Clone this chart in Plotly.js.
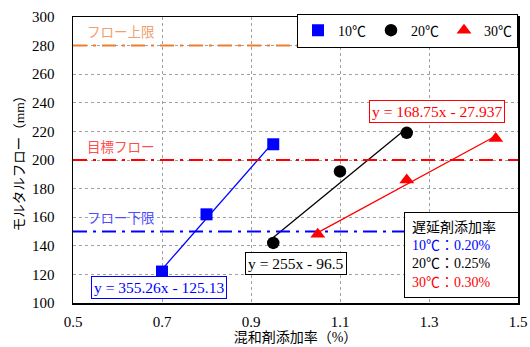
<!DOCTYPE html>
<html><head><meta charset="utf-8">
<script src="https://cdn.plot.ly/plotly-3.0.1.min.js"></script>
<style>html,body{margin:0;padding:0;background:#fff}#c{width:530px;height:347px}</style>
</head><body><div id="c"></div>
<script>
// Data
const seriesNames = ['10℃', '20℃', '30℃'];
const x10 = [0.70, 0.80, 0.95];
const y10 = [122, 162, 211];
const x20 = [0.95, 1.10, 1.25];
const y20 = [142, 192, 219];
const x30 = [1.05, 1.25, 1.45];
const y30 = [148, 186, 215];
const slopes = [355.26, 255, 168.75];
const intercepts = [-125.13, -96.5, -27.937];
const eqLabels = ['y = 355.26x - 125.13', 'y = 255x - 96.5', 'y = 168.75x - 27.937'];
const limitValues = [280, 200, 150];
const limitLabels = ['フロー上限', '目標フロー', 'フロー下限'];
const dosageLabels = ['10℃：0.20%', '20℃：0.25%', '30℃：0.30%'];
const legendTitle = '遅延剤添加率';
const xTicks = [0.5, 0.7, 0.9, 1.1, 1.3, 1.5];
const yTicks = [100, 120, 140, 160, 180, 200, 220, 240, 260, 280, 300];

const colors = ['#0000FF', '#000000', '#FF0000'];
const limitColors = ['#ED7D31', '#FF0000', '#0000FF'];
const limitTextColors = ['#F0A070', '#FF4D4D', '#4D4DFF'];
const symbols = ['square', 'circle', 'triangle-up'];
const FONT = '"Liberation Serif", "Noto Sans CJK JP", serif';

const xs = [x10, x20, x30], ys = [y10, y20, y30];
const traces = [];
// trendlines
for (let i = 0; i < 3; i++) {
  const x0 = Math.min(...xs[i]), x1 = Math.max(...xs[i]);
  traces.push({x: [x0, x1], y: [slopes[i]*x0 + intercepts[i], slopes[i]*x1 + intercepts[i]],
    mode: 'lines', line: {color: colors[i], width: 1.3}, showlegend: false, hoverinfo: 'skip'});
}
// limit lines
for (let i = 0; i < 3; i++) {
  traces.push({x: [0.5, 1.5], y: [limitValues[i], limitValues[i]], mode: 'lines',
    line: {color: limitColors[i], width: 2, dash: '14px,6px,3px,6px'}, showlegend: false, hoverinfo: 'skip'});
}
// markers
const msizes = [12, 12.5, 13];
for (let i = 0; i < 3; i++) {
  traces.push({x: xs[i], y: ys[i], mode: 'markers', name: seriesNames[i],
    marker: {color: colors[i], symbol: symbols[i], size: msizes[i]}});
}

const annotations = [];
const limitTextPos = [[0.608, 290], [0.608, 210], [0.608, 160]];
for (let i = 0; i < 3; i++) {
  annotations.push({x: limitTextPos[i][0], y: limitTextPos[i][1], text: limitLabels[i], showarrow: false,
    font: {family: '"Noto Sans CJK JP", sans-serif', size: 13.5, color: limitTextColors[i]}});
}
const eqPos = [[0.693, 110.6], [1.002, 127.4], [1.317, 234]];
for (let i = 0; i < 3; i++) {
  annotations.push({x: eqPos[i][0], y: eqPos[i][1], text: eqLabels[i], showarrow: false,
    font: {family: FONT, size: 15.5, color: colors[i]}, bgcolor: '#fff',
    bordercolor: colors[i], borderwidth: 1, borderpad: 2});
}
let boxText = legendTitle;
for (let i = 0; i < 3; i++) boxText += '<br><span style="color:' + colors[i] + '">' + dosageLabels[i] + '</span>';
annotations.push({xref: 'paper', x: (404-73)/445, xanchor: 'left', y: 163.4, yanchor: 'top', text: boxText,
  showarrow: false, align: 'left', width: 99, borderpad: 7, font: {family: FONT, size: 14, color: '#000'},
  bgcolor: '#fff', bordercolor: '#000', borderwidth: 1});

const layout = {
  width: 530, height: 347,
  margin: {l: 73, r: 12, t: 17, b: 44},
  paper_bgcolor: '#fff', plot_bgcolor: '#fff',
  font: {family: FONT, size: 15, color: '#000'},
  xaxis: {range: [0.5, 1.5], tickvals: xTicks, ticktext: xTicks.map(v => v.toFixed(1)),
    showgrid: true, gridcolor: '#A0A0A0', griddash: 'dot', gridwidth: 1,
    showline: true, mirror: true, linecolor: '#000', linewidth: 1.5, zeroline: false,
    ticks: '', ticklabelstandoff: 4,
    title: {text: '混和剤添加率（%）', font: {family: FONT, size: 14}, standoff: 3}},
  yaxis: {range: [100, 300], tickvals: yTicks,
    showgrid: true, gridcolor: '#A0A0A0', griddash: 'dot', gridwidth: 1,
    showline: true, mirror: true, linecolor: '#000', linewidth: 1.5, zeroline: false,
    ticks: '', ticklabelstandoff: 14,
    title: {text: 'モルタルフロー（mm）', font: {family: FONT, size: 13.5}, standoff: 4}},
  legend: {orientation: 'h', x: 1, xanchor: 'right', y: 1.012, yanchor: 'top',
    bgcolor: '#fff', bordercolor: '#000', borderwidth: 1, font: {family: FONT, size: 14}},
  annotations: annotations,
  showlegend: true
};
Plotly.newPlot('c', traces, layout, {displayModeBar: false, staticPlot: true});
</script></body></html>
